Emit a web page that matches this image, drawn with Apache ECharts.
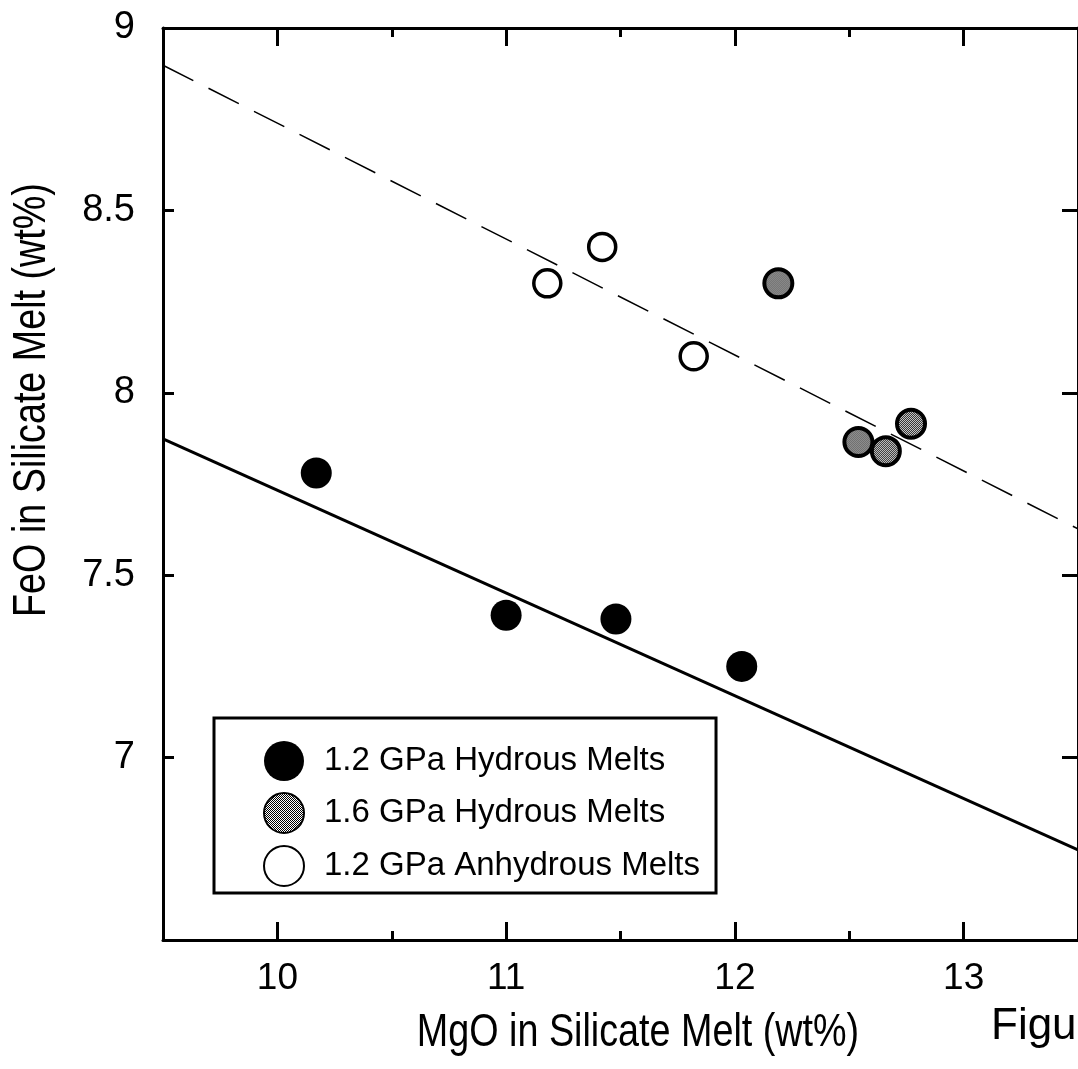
<!DOCTYPE html>
<html>
<head>
<meta charset="utf-8">
<script src="https://cdn.jsdelivr.net/npm/echarts@6/dist/echarts.min.js"></script>
<style>
html,body{margin:0;padding:0;background:#fff;}
#chart{width:1078px;height:1069px;}
</style>
</head>
<body>
<div id="chart"></div>
<script>
// ---- data ----
const hydrous12MgO = [10.17, 11.00, 11.48, 12.03];
const hydrous12FeO = [7.78, 7.39, 7.38, 7.25];
const hydrous16MgO = [12.19, 12.54, 12.66, 12.77];
const hydrous16FeO = [8.30, 7.865, 7.84, 7.915];
const anhydrousMgO = [11.18, 11.42, 11.82];
const anhydrousFeO = [8.30, 8.40, 8.10];
const hydrousFitMgO = [9.5, 13.5];
const hydrousFitFeO = [7.874, 6.747];
const anhydrousFitMgO = [9.5, 13.5];
const anhydrousFitFeO = [8.898, 7.627];
const xTicks = [10, 11, 12, 13];
const xMinorTicks = [10.5, 11.5, 12.5];
const yTicks = [7, 7.5, 8, 8.5];
const yLabels = [7, 7.5, 8, 8.5, 9];
const seriesNames = ['1.2 GPa Hydrous Melts', '1.6 GPa Hydrous Melts', '1.2 GPa Anhydrous Melts'];

const FONT = "'Liberation Sans',Arial,Helvetica,sans-serif";
const zip = (a, b) => a.map((v, i) => [v, b[i]]);

// stipple pattern for the 1.6 GPa symbols
const pc = document.createElement('canvas');
pc.width = 2; pc.height = 2;
const pctx = pc.getContext('2d');
pctx.fillStyle = '#000'; pctx.fillRect(0, 0, 2, 2);
pctx.fillStyle = '#fff'; pctx.fillRect(1, 0, 1, 1); pctx.fillRect(0, 1, 1, 1);
const stippleLegend = { image: pc, repeat: 'repeat' };
const grayMarkerSize = 28;
// scatter symbols are unit paths scaled by size/2, so counter-scale the pattern
const stippleMarker = { image: pc, repeat: 'repeat', scaleX: 2 / grayMarkerSize, scaleY: 2 / grayMarkerSize };

const chart = echarts.init(document.getElementById('chart'), null, { renderer: 'canvas' });

const baseX = {
  type: 'value', min: 9.5, max: 13.5, gridIndex: 0,
  splitLine: { show: false },
  axisLine: { show: true, lineStyle: { color: '#000', width: 3 } }
};
const baseY = {
  type: 'value', min: 6.5, max: 9, gridIndex: 0,
  splitLine: { show: false },
  axisLine: { show: true, lineStyle: { color: '#000', width: 3 } }
};

chart.setOption({
  animation: false,
  backgroundColor: '#fff',
  textStyle: { fontFamily: FONT },
  grid: { left: 163, top: 28, width: 916, height: 912, containLabel: false },
  xAxis: [
    Object.assign({}, baseX, {
      position: 'bottom',
      axisTick: { show: true, inside: true, length: 18, lineStyle: { color: '#000', width: 3 }, customValues: xTicks },
      axisLabel: { show: true, customValues: xTicks, fontSize: 37, color: '#000', fontFamily: FONT, margin: 20 }
    }),
    Object.assign({}, baseX, {
      position: 'bottom',
      axisLine: { show: false },
      axisTick: { show: true, inside: true, length: 9, lineStyle: { color: '#000', width: 3 }, customValues: xMinorTicks },
      axisLabel: { show: false }
    }),
    Object.assign({}, baseX, {
      position: 'top',
      axisTick: { show: true, inside: true, length: 18, lineStyle: { color: '#000', width: 3 }, customValues: xTicks },
      axisLabel: { show: false }
    }),
    Object.assign({}, baseX, {
      position: 'top',
      axisLine: { show: false },
      axisTick: { show: true, inside: true, length: 9, lineStyle: { color: '#000', width: 3 }, customValues: xMinorTicks },
      axisLabel: { show: false }
    })
  ],
  yAxis: [
    Object.assign({}, baseY, {
      position: 'left',
      axisTick: { show: true, inside: true, length: 11, lineStyle: { color: '#000', width: 3 }, customValues: yTicks },
      axisLabel: { show: true, customValues: yLabels, fontSize: 38, color: '#000', fontFamily: FONT, margin: 28 }
    }),
    Object.assign({}, baseY, {
      position: 'right',
      axisTick: { show: true, inside: true, length: 16, lineStyle: { color: '#000', width: 3 }, customValues: yTicks },
      axisLabel: { show: false }
    })
  ],
  legend: {
    data: [
      { name: seriesNames[0] },
      { name: seriesNames[1], itemStyle: { color: stippleLegend } },
      { name: seriesNames[2] }
    ],
    orient: 'vertical',
    left: 214, top: 718,
    padding: [23, 16, 6, 49],
    itemWidth: 70, itemHeight: 40, itemGap: 11,
    borderColor: '#000', borderWidth: 3,
    backgroundColor: '#fff',
    selectedMode: false,
    textStyle: { fontSize: 33, color: '#000', fontFamily: FONT, lineHeight: 40 }
  },
  graphic: [
    { type: 'text', x: 32, y: 400, rotation: Math.PI / 2, scaleX: 0.82,
      style: { text: 'FeO in Silicate Melt (wt%)', fontSize: 46, fontFamily: FONT, fill: '#000', align: 'center', verticalAlign: 'middle' } },
    { type: 'text', x: 638, y: 1033, scaleX: 0.82,
      style: { text: 'MgO in Silicate Melt (wt%)', fontSize: 46, fontFamily: FONT, fill: '#000', align: 'center', verticalAlign: 'middle' } },
    { type: 'text', x: 991, y: 1027,
      style: { text: 'Figu', fontSize: 44, fontFamily: FONT, fill: '#000', align: 'left', verticalAlign: 'middle' } }
  ],
  series: [
    { name: 'anhydrous fit', type: 'line', xAxisIndex: 0, yAxisIndex: 0, data: zip(anhydrousFitMgO, anhydrousFitFeO),
      symbol: 'none', silent: true, lineStyle: { color: '#000', width: 1.5, type: [34, 17] }, z: 2 },
    { name: 'hydrous fit', type: 'line', xAxisIndex: 0, yAxisIndex: 0, data: zip(hydrousFitMgO, hydrousFitFeO),
      symbol: 'none', silent: true, lineStyle: { color: '#000', width: 3 }, z: 2 },
    { name: seriesNames[0], type: 'scatter', xAxisIndex: 0, yAxisIndex: 0, data: zip(hydrous12MgO, hydrous12FeO),
      symbol: 'circle', symbolSize: 31, itemStyle: { color: '#000', opacity: 1 }, z: 3 },
    { name: seriesNames[1], type: 'scatter', xAxisIndex: 0, yAxisIndex: 0, data: zip(hydrous16MgO, hydrous16FeO),
      symbol: 'circle', symbolSize: grayMarkerSize, itemStyle: { color: stippleMarker, borderColor: '#000', borderWidth: 4, opacity: 1 }, z: 3 },
    { name: seriesNames[2], type: 'scatter', xAxisIndex: 0, yAxisIndex: 0, data: zip(anhydrousMgO, anhydrousFeO),
      symbol: 'circle', symbolSize: 27, itemStyle: { color: '#fff', borderColor: '#000', borderWidth: 3.5, opacity: 1 }, z: 3 }
  ]
});
</script>
</body>
</html>
